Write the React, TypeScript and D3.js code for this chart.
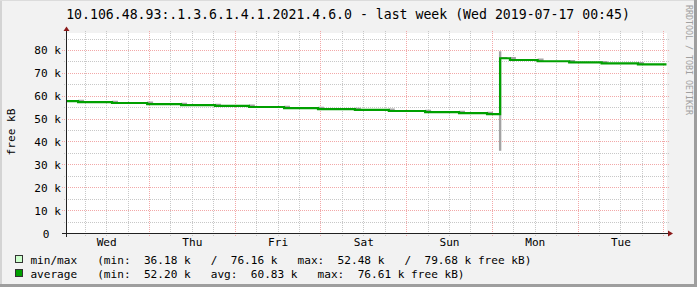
import React from "react";
import * as d3 from "d3";

const W = 697;
const H = 287;

const TITLE = "10.106.48.93:.1.3.6.1.4.1.2021.4.6.0 - last week (Wed 2019-07-17 00:45)";
const Y_LABEL = "free kB";
const WATERMARK = "RRDTOOL / TOBI OETIKER";

const START = "2019-07-10 00:45";
const END = "2019-07-17 00:45";

// average series (step function)
const avgTimes = [
  "2019-07-10 00:45", "2019-07-10 04:00", "2019-07-10 13:30", "2019-07-10 23:20",
  "2019-07-11 08:50", "2019-07-11 18:20", "2019-07-12 03:50", "2019-07-12 13:40",
  "2019-07-12 23:10", "2019-07-13 09:30", "2019-07-13 19:00", "2019-07-14 05:10",
  "2019-07-14 14:40", "2019-07-14 22:30", "2019-07-15 02:10", "2019-07-15 04:55",
  "2019-07-15 12:40", "2019-07-15 21:30", "2019-07-16 06:35", "2019-07-16 16:45",
  "2019-07-17 00:45",
];
const avgValues = [
  57900, 57450, 57050, 56600, 56150, 55750, 55300, 54850, 54400, 54000, 53550,
  53100, 52650, 52200, 76610, 75850, 75300, 74850, 74400, 73900, 73900,
];

// min/max band
const bandTimes = [
  "2019-07-10 00:45", "2019-07-10 04:00", "2019-07-10 05:40", "2019-07-10 13:30",
  "2019-07-10 15:10", "2019-07-10 23:20", "2019-07-11 01:00", "2019-07-11 08:50",
  "2019-07-11 10:30", "2019-07-11 18:20", "2019-07-11 20:00", "2019-07-12 03:50",
  "2019-07-12 05:30", "2019-07-12 13:40", "2019-07-12 15:20", "2019-07-12 23:10",
  "2019-07-13 00:50", "2019-07-13 09:30", "2019-07-13 11:10", "2019-07-13 19:00",
  "2019-07-13 20:40", "2019-07-14 05:10", "2019-07-14 06:50", "2019-07-14 14:40",
  "2019-07-14 16:20", "2019-07-14 22:30", "2019-07-15 00:10", "2019-07-15 01:50",
  "2019-07-15 02:30", "2019-07-15 04:10", "2019-07-15 04:55", "2019-07-15 06:35",
  "2019-07-15 12:40", "2019-07-15 14:20", "2019-07-15 21:30", "2019-07-15 23:10",
  "2019-07-16 06:35", "2019-07-16 08:15", "2019-07-16 16:45", "2019-07-16 18:25",
  "2019-07-17 00:45",
];
const bandMin = [
  57900, 57450, 57450, 57050, 57050, 56600, 56600, 56150, 56150, 55750, 55750,
  55300, 55300, 54850, 54850, 54400, 54400, 54000, 54000, 53550, 53550, 53100,
  53100, 52650, 52650, 52200, 52200, 36180, 76610, 76610, 75850, 75850, 75300,
  75300, 74850, 74850, 74400, 74400, 73900, 73900, 73900,
];
const bandMax = [
  57900, 58500, 57450, 58050, 57050, 57650, 56600, 57200, 56150, 56750, 55750,
  56350, 55300, 55900, 54850, 55450, 54400, 55000, 54000, 54600, 53550, 54150,
  53100, 53700, 52650, 53250, 52200, 79680, 77200, 76610, 77210, 75850, 76450,
  75300, 75900, 74850, 75450, 74400, 75000, 73900, 73900,
];

const yTickValues = [0, 10000, 20000, 30000, 40000, 50000, 60000, 70000, 80000];
const yTickLabels = ["0", "10 k", "20 k", "30 k", "40 k", "50 k", "60 k", "70 k", "80 k"];
const yMinorValues = [5000, 15000, 25000, 35000, 45000, 55000, 65000, 75000, 85000];
const Y_MAX = 87430;

const dayLabels = ["Wed", "Thu", "Fri", "Sat", "Sun", "Mon", "Tue"];
const dayNoons = [
  "2019-07-10 12:00", "2019-07-11 12:00", "2019-07-12 12:00", "2019-07-13 12:00",
  "2019-07-14 12:00", "2019-07-15 12:00", "2019-07-16 12:00",
];

const legendRows = [
  { label: "min/max   (min:  36.18 k   /  76.16 k   max:  52.48 k   /  79.68 k free kB)", fill: "#ccffcc" },
  { label: "average   (min:  52.20 k   avg:  60.83 k   max:  76.61 k free kB)", fill: "#00a000" },
];

const FONT = "'DejaVu Sans Mono', monospace";
const parse = d3.timeParse("%Y-%m-%d %H:%M");

export default function App() {
  const x0 = 66.5;
  const x1 = 666.5;
  const yBottom = 233.5;
  const yTop = 33.5;
  const start = parse(START) as Date;
  const end = parse(END) as Date;
  const x = d3.scaleTime().domain([start, end]).range([x0, x1]);
  const y = d3.scaleLinear().domain([0, Y_MAX]).range([yBottom, yTop]);

  const majorDays = d3.timeDay.range(d3.timeDay.ceil(start), end);
  const minorHours = d3.timeHour
    .every(6)!
    .range(start, end)
    .filter((d) => d.getHours() !== 0);

  const avgData = avgTimes.map((t, i) => ({ t: parse(t) as Date, v: avgValues[i] }));
  const bandData = bandTimes.map((t, i) => ({ t: parse(t) as Date, lo: bandMin[i], hi: bandMax[i] }));

  const line = d3
    .line<{ t: Date; v: number }>()
    .x((d) => x(d.t))
    .y((d) => y(d.v))
    .curve(d3.curveStepAfter);
  const area = d3
    .area<{ t: Date; lo: number; hi: number }>()
    .x((d) => x(d.t))
    .y0((d) => y(d.lo))
    .y1((d) => y(d.hi))
    .curve(d3.curveStepAfter);

  const snap = (v: number) => Math.round(v - 0.5) + 0.5;
  const gridGray = "#c8c8c8";
  const gridRed = "#f2a8a8";

  return (
    <svg
      width={W}
      height={H}
      style={{ position: "fixed", left: 0, top: 0, display: "block" }}
      fontFamily={FONT}
    >
      <rect x={0} y={0} width={W} height={H} fill="#f2f2f2" />
      {/* frame shading */}
      <rect x={0} y={0} width={2} height={H} fill="#d4d4d4" />
      <rect x={0} y={0} width={W} height={1} fill="#dcdcdc" />
      <rect x={W - 3} y={0} width={3} height={H} fill="#9e9e9e" />
      <rect x={0} y={H - 3} width={W} height={3} fill="#9e9e9e" />

      <text x={348} y={18.5} textAnchor="middle" fontSize={13.2} fill="#000">
        {TITLE}
      </text>

      {/* canvas */}
      <rect x={67} y={33} width={600} height={200} fill="#ffffff" />

      {/* minor grid */}
      <g stroke={gridGray} strokeWidth={1} strokeDasharray="1,1" shapeRendering="crispEdges">
        {yMinorValues.map((v) => (
          <line key={"hm" + v} x1={64} x2={669} y1={snap(y(v))} y2={snap(y(v))} />
        ))}
        {minorHours.map((d) => (
          <line key={"vm" + d.getTime()} x1={snap(x(d))} x2={snap(x(d))} y1={31} y2={236} />
        ))}
      </g>
      {/* major grid */}
      <g stroke={gridRed} strokeWidth={1} strokeDasharray="1,1" shapeRendering="crispEdges">
        {yTickValues.slice(1).map((v) => (
          <line key={"hM" + v} x1={62} x2={669} y1={snap(y(v))} y2={snap(y(v))} />
        ))}
        {majorDays.map((d) => (
          <line key={"vM" + d.getTime()} x1={snap(x(d))} x2={snap(x(d))} y1={31} y2={237} />
        ))}
      </g>

      {/* data */}
      <path d={area(bandData) || ""} fill="#a3a3a3" stroke="none" />
      <path d={line(avgData) || ""} fill="none" stroke="#00a000" strokeWidth={2.2} />

      {/* axes */}
      <g stroke="#222" strokeWidth={1} shapeRendering="crispEdges">
        <line x1={x0} x2={x0} y1={30} y2={237} />
        <line x1={62} x2={669} y1={yBottom} y2={yBottom} />
      </g>
      <path d={`M${x0 - 3},${31} L${x0 + 3},${31} L${x0},${26.5} Z`} fill="#8b1a1a" />
      <path d={`M${668},${yBottom - 3} L${668},${yBottom + 3} L${673},${yBottom} Z`} fill="#8b1a1a" />

      {/* y labels */}
      <g fontSize={11.1} fill="#000">
        {yTickValues.map((v, i) => (
          <text key={"yl" + v} x={v === 0 ? 49.5 : 61} y={y(v) + 4} textAnchor="end">
            {yTickLabels[i]}
          </text>
        ))}
      </g>
      {/* x labels */}
      <g fontSize={11.1} fill="#000">
        {dayLabels.map((lab, i) => (
          <text key={lab} x={x(parse(dayNoons[i]) as Date)} y={245.5} textAnchor="middle">
            {lab}
          </text>
        ))}
      </g>

      <text
        transform="translate(15,132) rotate(-90)"
        textAnchor="middle"
        fontSize={11.1}
        fill="#000"
      >
        {Y_LABEL}
      </text>
      <text transform="translate(686,5) rotate(90)" fontSize={8.3} fill="#a0a0a0">
        {WATERMARK}
      </text>

      {/* legend */}
      {legendRows.map((r, i) => (
        <g key={"lg" + i}>
          <rect x={15.5} y={255.5 + i * 14} width={7} height={7} fill={r.fill} stroke="#333" strokeWidth={1} shapeRendering="crispEdges" />
          <text x={30.4} y={263.5 + i * 14} fontSize={11.1} fill="#000" style={{ whiteSpace: "pre" }}>
            {r.label}
          </text>
        </g>
      ))}
    </svg>
  );
}
